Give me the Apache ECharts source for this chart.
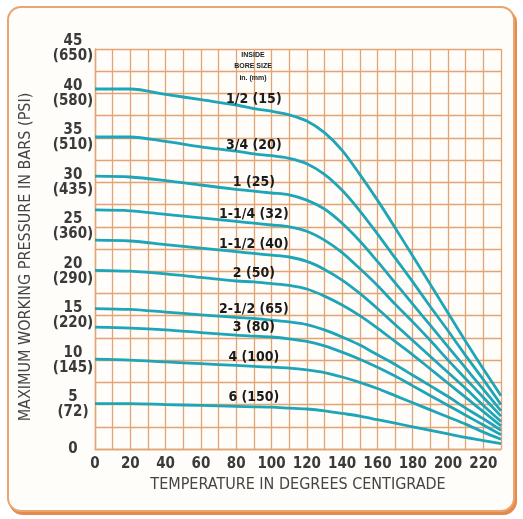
<!DOCTYPE html>
<html>
<head>
<meta charset="utf-8">
<script src="https://cdn.jsdelivr.net/npm/echarts@6/dist/echarts.min.js"></script>
<style>
  html, body { margin:0; padding:0; background:#ffffff; width:523px; height:519px; overflow:hidden; }
  #card { position:absolute; left:7px; top:6px; width:504px; height:502px; border:2px solid #eaa56c; border-radius:14px; background:#fefdfa; box-shadow:2px 3px 0 #e38a4c; }
  #chart { position:absolute; left:0; top:0; width:523px; height:519px; }
</style>
</head>
<body>
<div id="card"></div>
<div id="chart"></div>
<script>
// Temperatures (deg C) at which curves were read
const temps = [0,20,40,60,80,90,100,110,120,130,140,150,160,170,180,190,200,210,220,230];

// Curve names (inside bore size in. (mm))
const sizeNames = ['1/2 (15)','3/4 (20)','1 (25)','1-1/4 (32)','1-1/2 (40)','2 (50)','2-1/2 (65)','3 (80)','4 (100)','6 (150)'];

// Maximum working pressure in bars
const p15  = [40.5,40.5,39.9,39.3,38.7,38.3,38.0,37.6,36.9,35.6,33.6,30.9,28.0,24.9,21.7,18.5,15.3,12.1,9.0,6.0];
const p20  = [35.1,35.1,34.6,34.0,33.5,33.2,33.0,32.7,32.1,30.9,29.1,26.8,24.2,21.5,18.8,16.0,13.3,10.5,7.8,5.0];
const p25  = [30.7,30.6,30.2,29.7,29.2,29.0,28.8,28.6,28.0,27.0,25.4,23.4,21.1,18.7,16.3,13.9,11.5,9.1,6.7,4.3];
const p32  = [26.9,26.8,26.4,26.0,25.6,25.4,25.2,25.0,24.5,23.5,22.1,20.3,18.4,16.3,14.3,12.2,10.0,7.9,5.8,3.7];
const p40  = [23.5,23.4,23.0,22.6,22.2,22.0,21.8,21.6,21.1,20.2,19.0,17.5,15.8,14.0,12.2,10.4,8.6,6.8,4.9,3.1];
const p50  = [20.1,20.0,19.7,19.3,18.9,18.8,18.6,18.4,18.0,17.2,16.2,15.0,13.6,12.1,10.6,9.0,7.4,5.8,4.2,2.6];
const p65  = [15.8,15.7,15.4,15.1,14.8,14.7,14.5,14.3,14.0,13.4,12.6,11.7,10.6,9.5,8.3,7.1,5.9,4.6,3.4,2.1];
const p80  = [13.7,13.6,13.4,13.1,12.8,12.7,12.6,12.4,12.1,11.6,10.9,10.1,9.2,8.2,7.1,6.0,4.9,3.8,2.7,1.6];
const p100 = [10.1,10.0,9.8,9.6,9.4,9.3,9.2,9.1,8.9,8.6,8.1,7.5,6.8,6.0,5.2,4.4,3.6,2.8,1.9,1.1];
const p150 = [5.1,5.1,5.0,4.9,4.8,4.75,4.7,4.6,4.5,4.3,4.0,3.7,3.3,2.9,2.5,2.1,1.7,1.3,0.95,0.6];

// Tick labels
const barTicks = [5,10,15,20,25,30,35,40,45];
const psiTicks = ['72','145','220','290','360','435','510','580','650'];
const xTickLabels = ['0','20','40','60','80','100','120','140','160','180','200','220'];

const allSeries = [p15,p20,p25,p32,p40,p50,p65,p80,p100,p150];
const labelIndex = temps.indexOf(90);

const FONT = "'Liberation Sans Narrow','DejaVu Sans Condensed','Liberation Sans',Arial,sans-serif";
const GRIDC = '#e4a372';
const LINEC = '#1ea5b8';

const series = allSeries.map((vals, i) => ({
  type: 'line',
  name: sizeNames[i],
  smooth: 0.3,
  showSymbol: false,
  symbol: 'none',
  lineStyle: { color: LINEC, width: 2.8 },
  z: 3,
  data: vals.map((v, k) => [temps[k], v]),
  markPoint: {
    silent: true,
    symbol: 'circle', symbolSize: 0,
    itemStyle: { color: 'transparent' },
    label: {
      show: true, position: 'top', distance: 2,
      formatter: sizeNames[i],
      fontFamily: FONT,
      fontWeight: 'bold', fontSize: 14, color: '#1a1a1a'
    },
    data: [{ coord: [temps[labelIndex], vals[labelIndex]] }]
  }
}));

const chart = echarts.init(document.getElementById('chart'), null, { renderer: 'canvas' });
chart.setOption({
  backgroundColor: 'transparent',
  animation: false,
  grid: { left: 95, right: 22, top: 49, bottom: 70, containLabel: false },
  xAxis: {
    type: 'value', min: 0, max: 230, interval: 10,
    name: 'TEMPERATURE IN DEGREES CENTIGRADE',
    nameLocation: 'middle', nameGap: 28,
    nameTextStyle: { fontFamily: FONT, fontSize: 16, color: '#444' },
    axisLine: { show: true, lineStyle: { color: GRIDC, width: 1.4 } },
    axisTick: { show: false },
    axisLabel: {
      margin: 8, fontFamily: FONT, fontSize: 15, fontWeight: 'bold', color: '#3a3a3a',
      formatter: v => { const i = xTickLabels.indexOf(String(v)); return i >= 0 ? xTickLabels[i] : ''; }
    },
    splitLine: { show: true, lineStyle: { color: GRIDC, width: 1.3 } }
  },
  yAxis: {
    type: 'value', min: 0, max: 45, interval: 2.5,
    name: 'MAXIMUM WORKING PRESSURE IN BARS (PSI)',
    nameLocation: 'middle', nameGap: 61, nameRotate: 90,
    nameTextStyle: { fontFamily: FONT, fontSize: 16, color: '#444', padding: [0, 16, 0, 0] },
    axisLine: { show: true, lineStyle: { color: GRIDC, width: 1.4 } },
    axisTick: { show: false },
    axisLabel: {
      margin: 22, align: 'center', lineHeight: 15,
      fontFamily: FONT, fontSize: 15, fontWeight: 'bold', color: '#3a3a3a',
      formatter: v => {
        if (v === 0) return '0';
        const i = barTicks.indexOf(v);
        return i >= 0 ? barTicks[i] + '\n(' + psiTicks[i] + ')' : '';
      }
    },
    splitLine: { show: true, lineStyle: { color: GRIDC, width: 1.3 } }
  },
  graphic: [{
    type: 'text', x: 253, y: 49, z: 10, silent: true,
    style: {
      text: 'INSIDE\nBORE SIZE\nin. (mm)', align: 'center', verticalAlign: 'top',
      font: "bold 7px 'Liberation Sans',Arial,sans-serif", lineHeight: 11.5, fill: '#222'
    }
  }],
  series: series
});
</script>
</body>
</html>
